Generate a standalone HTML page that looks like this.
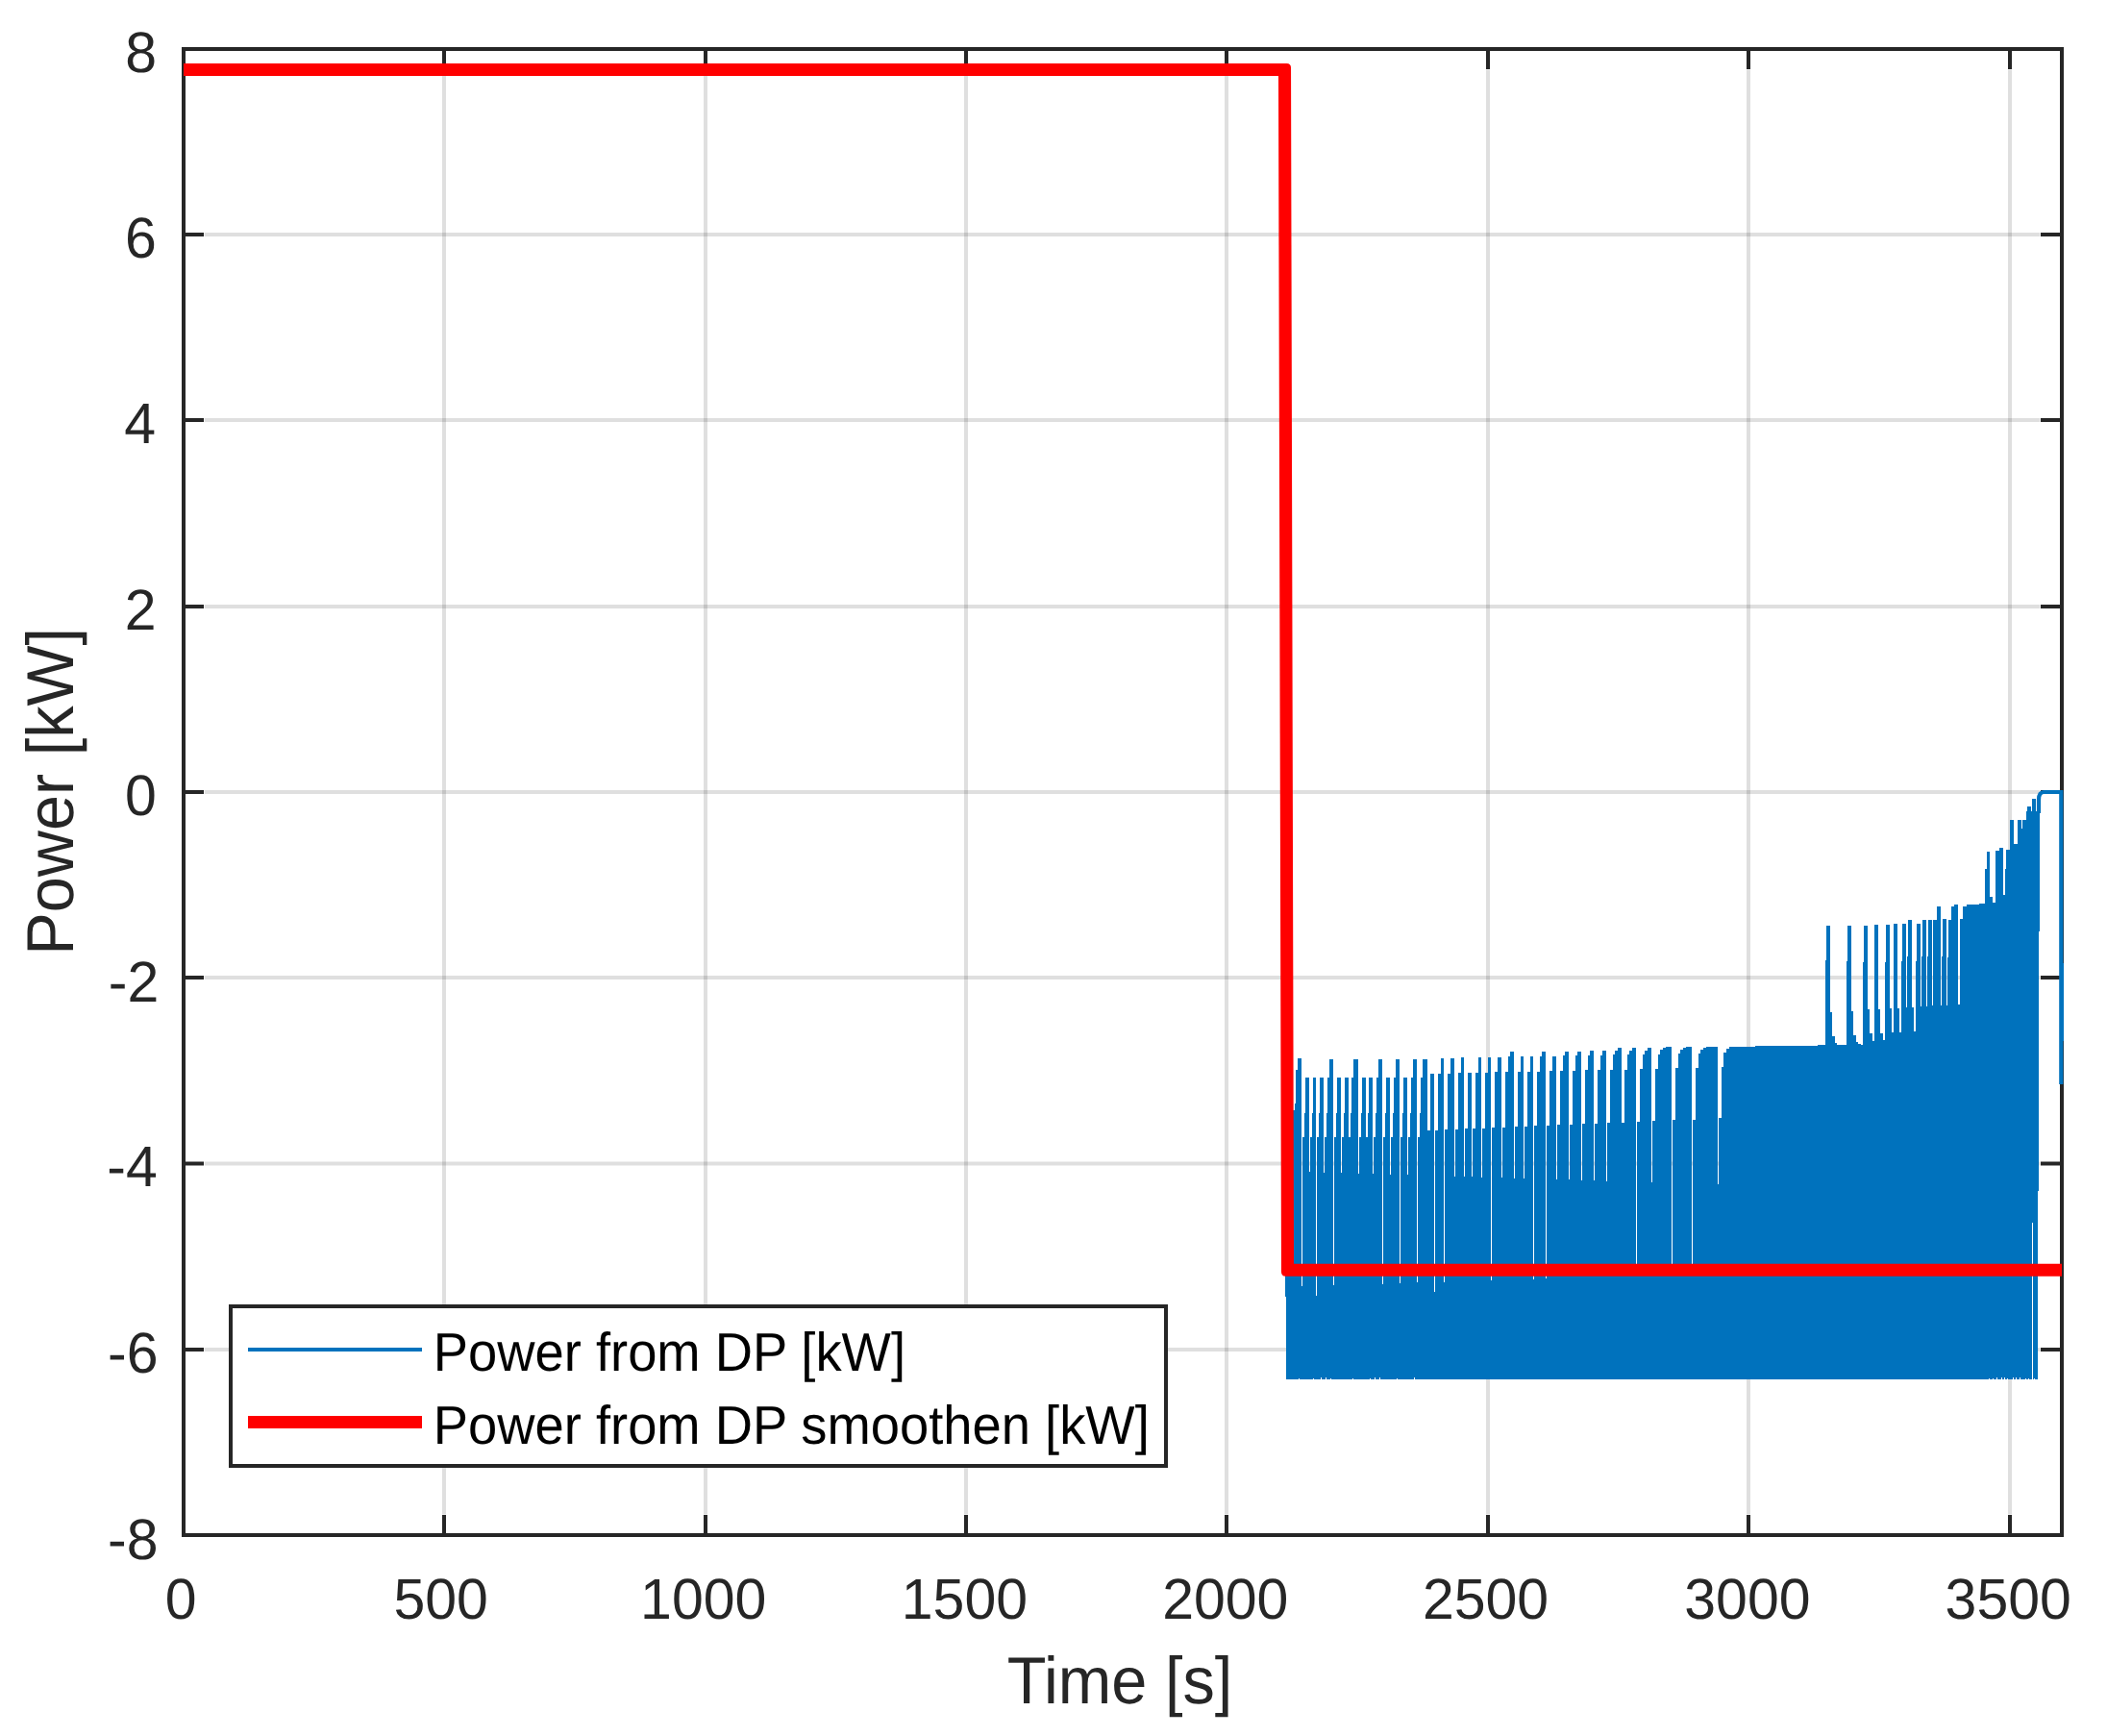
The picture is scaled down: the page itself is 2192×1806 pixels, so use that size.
<!DOCTYPE html>
<html lang="en"><head><meta charset="utf-8"><title>Power from DP</title>
<style>
html,body{margin:0;padding:0;background:#fff;}
body{width:2192px;height:1806px;overflow:hidden;font-family:"Liberation Sans",Arial,Helvetica,sans-serif;}
svg{display:block;}
</style></head>
<body>
<svg width="2192" height="1806" viewBox="0 0 2192 1806">
<rect width="2192" height="1806" fill="#fff"/>
<g stroke="#262626" stroke-opacity="0.15" stroke-width="4" fill="none">
<path d="M462,72.6 V1575.4 M734,72.6 V1575.4 M1005,72.6 V1575.4 M1276,72.6 V1575.4 M1548,72.6 V1575.4 M1819,72.6 V1575.4 M2091,72.6 V1575.4"/>
<path d="M212.6,1404 H2122.4 M212.6,1210.5 H2122.4 M212.6,1017 H2122.4 M212.6,824 H2122.4 M212.6,631 H2122.4 M212.6,437 H2122.4 M212.6,244 H2122.4"/>
</g>
<g stroke="#262626" stroke-width="4" fill="none" stroke-linecap="butt">
<rect x="191" y="51" width="1954" height="1546"/>
<path d="M462,1597 v-21 M462,51 v21 M734,1597 v-21 M734,51 v21 M1005,1597 v-21 M1005,51 v21 M1276,1597 v-21 M1276,51 v21 M1548,1597 v-21 M1548,51 v21 M1819,1597 v-21 M1819,51 v21 M2091,1597 v-21 M2091,51 v21 M191,1404 h21 M2145,1404 h-22 M191,1210.5 h21 M2145,1210.5 h-22 M191,1017 h21 M2145,1017 h-22 M191,824 h21 M2145,824 h-22 M191,631 h21 M2145,631 h-22 M191,437 h21 M2145,437 h-22 M191,244 h21 M2145,244 h-22"/>
</g>
<path d="M1337.5,1435V1155H1346.9V1148H1348.4V1113H1350.2V1101.3H1354V1338H1355V1183H1357.2V1158H1358.2V1120.5H1362V1219.1H1363V1183H1365.2V1158H1366.2V1120.5H1369V1348H1370V1183H1372.2V1158H1373.2V1120.5H1377V1219.5H1378V1183H1380.2V1158H1381.2V1120.5H1383.3V1102H1387V1337H1388V1183H1390.2V1158H1391.2V1120.5H1395V1220.1H1396V1183H1398.2V1158H1399.2V1120.5H1402.9V1183H1405.1V1158H1406.1V1120.5H1408.2V1102H1413V1220.6H1414V1183H1416.2V1158H1417.2V1120.5H1420.8V1183H1423V1158H1424V1120.5H1428V1221.1H1429V1183H1431.2V1158H1432.2V1120.5H1434.3V1102H1438V1335.5H1439V1183H1441.2V1158H1442.2V1120.5H1446V1221.6H1447V1183H1449.2V1158H1450.2V1120.5H1452.3V1102H1456V1334.9H1457V1183H1459.2V1158H1460.2V1120.5H1464V1222.2H1465V1183H1467.2V1158H1468.2V1120.5H1470.3V1102H1474V1334.4H1475V1183H1477.2V1158H1478.2V1120.5H1480.3V1102H1485V1175.8H1487.7V1116.9H1492V1344H1493V1175.5H1495.7V1116.7H1498.6V1100.8H1502V1333.6H1503V1175.1H1505.7V1116.5H1508.6V1100.6H1513V1223.7H1514V1174.6H1516.7V1116.3H1519.6V1100.4H1523V1224H1524V1174.2H1526.7V1116H1531V1224.2H1532V1173.9H1534.7V1115.9H1537.6V1100H1541V1224.5H1542V1173.5H1544.7V1115.6H1547.6V1099.8H1551V1332.1H1552V1173.1H1554.7V1115.4H1557.6V1099.7H1562V1225.1H1563V1172.6H1565.7V1115.2H1568.6V1099.4H1571.2V1094.4H1575V1225.5H1576V1172.1H1578.7V1114.9H1581.6V1099.2H1585V1225.9H1586V1171.7H1588.7V1114.7H1591.6V1099H1595V1330.8H1596V1171.3H1598.7V1114.5H1601.6V1098.8H1604.2V1094H1608V1330.4H1609V1170.8H1611.7V1114.2H1614.6V1098.6H1619V1226.9H1620V1170.3H1622.7V1113.9H1625.6V1098.4H1628.2V1093.7H1632V1227.3H1633V1169.8H1635.7V1113.7H1638.6V1098.1H1641.2V1093.5H1645V1227.7H1646V1169.3H1648.7V1113.4H1651.6V1097.9H1654.2V1093.3H1658V1228.1H1659V1168.7H1661.7V1113.1H1664.6V1097.6H1667.2V1093.2H1671V1228.5H1672V1168.2H1674.7V1112.8H1677.6V1097.4H1680.2V1093H1683.3V1090.2H1687V1167.6H1689.7V1112.5H1692.6V1097.1H1695.2V1092.8H1698.3V1090.2H1702V1324H1703V1166.9H1705.7V1112.1H1708.6V1096.8H1711.2V1092.6H1714.3V1090.2H1718V1229.9H1719V1166.3H1721.7V1111.8H1724.6V1096.5H1727.2V1092.4H1730.3V1090.2H1732.9V1089.3H1739V1324H1740V1165.4H1742.7V1111.3H1745.6V1096.1H1748.2V1092.1H1751.3V1090.2H1753.9V1089.3H1760V1324H1761V1164.6H1763.7V1110.9H1766.6V1095.7H1769.2V1091.8H1772.3V1090.2H1774.9V1089.3H1787V1232H1788V1163H1791.1V1110H1793.2V1095H1796V1091H1799.1V1089.2H1826.3V1088.2H1891V1087.1H1899.1V999H1900.3V963.1H1903.8V1052.8H1906.3V1077.8H1909V1085.3H1911.3V1086.8H1914V1087H1921V1000H1922.1V963H1925.8V1051.5H1928.3V1076.5H1931V1084H1933.3V1085.5H1936V1086.5H1937.9V1001H1939.1V963H1942.8V1050.4H1945.3V1075.4H1948V1082.9H1950V962.3H1953.9V1049.8H1956.4V1074.8H1959.1V1082.3H1961V1001H1962.2V962.3H1965.9V1049H1968.4V1074H1970V961.1H1973.9V1048.6H1976.4V1073.6H1978V1000H1979V961.1H1982.7V1048H1984.2V995H1985.1V957.4H1988.9V1047.7H1991.4V1072.7H1993.1V1000H1994.1V961.1H1997.8V1047.1H1999V995H2000V957.4H2003.7V1046.8H2004.9V995H2005.9V957.4H2009.5V1046.4H2010.8V957.4H2015.1V943H2018.8V1045.9H2020V995H2021V956.2H2024.9V1045.5H2026.2V996H2027.2V957.4H2030.2V943H2033V941.4H2036.9V1044.8H2039.3V956H2042.1V943.2H2045.8V941.1H2052V940.6H2059V940H2065.2V904H2066.5V885.5H2070V932.6H2072.9V939H2075.6V885.2H2079.7V881.5H2084V931H2086.1V904H2087.4V884.2H2091V852.9H2095V878.2H2099V852.9H2103V862H2104.1V852.6H2108.1V844H2109.2V838.6H2113V844H2114.2V831.1H2117.9V844H2119.2V838H2122L2119.8,1435Z" fill="#0072BD" shape-rendering="crispEdges"/>
<path d="M1351,1435v-1.5h1v1.5z M1366,1435v-1.5h1v1.5z M1374,1435v-2h1v2z M1379,1435v-2h1v2z M1384,1435v-1.5h1v1.5z M1407,1435v-1.5h1v1.5z M1425,1435v-1.5h1v1.5z M1430,1435v-2h1v2z M1435,1435v-2h1v2z M1453,1435v-1.5h1v1.5z M1471,1435v-2h1v2z M2069,1435v-1.5h1v1.5z M2073,1435v-1.5h1v1.5z M2077,1435v-2h1v2z M2082,1435v-2h1v2z M2085,1435v-2h1v2z M2088,1435v-1.5h1v1.5z M2094,1435v-2h1v2z M2097,1435v-2h1v2z M2101,1435v-2h1v2z M2107,1435v-1.5h1v1.5z M2110,1435v-1.5h1v1.5z M2116,1435v-1.5h1v1.5z" fill="#fff" shape-rendering="crispEdges"/>
<rect x="1337" y="1326" width="1" height="23" fill="#0072BD" shape-rendering="crispEdges"/>
<rect x="2114" y="1272" width="1" height="163" fill="#fff" shape-rendering="crispEdges"/>
<path d="M2121,846 V832 Q2121,824 2126.5,824 H2144.3 V1128" fill="none" stroke="#0072BD" stroke-width="4.2" stroke-linecap="butt" stroke-linejoin="miter"/>
<rect x="2144" y="1002" width="3" height="81" fill="#0072BD"/>
<path d="M191,66 H1338.6 Q1343,66 1343.05,70.5 L1346.05,1314.8 H2145 V1327.8 H1337.5 Q1333,1327.8 1332.95,1322.8 L1330,79 H191 Z" fill="#FF0000"/>
<g text-rendering="geometricPrecision" font-family="'Liberation Sans', Arial, Helvetica, sans-serif">
<text transform="translate(188.1,1683.7) scale(1,1.013)" font-size="59.0" text-anchor="middle" fill="#262626">0</text>
<text transform="translate(458.7,1683.7) scale(1,1.013)" font-size="59.0" text-anchor="middle" fill="#262626">500</text>
<text transform="translate(731.7,1683.7) scale(1,1.013)" font-size="59.0" text-anchor="middle" fill="#262626">1000</text>
<text transform="translate(1003.4,1683.7) scale(1,1.013)" font-size="59.0" text-anchor="middle" fill="#262626">1500</text>
<text transform="translate(1274.8,1683.7) scale(1,1.013)" font-size="59.0" text-anchor="middle" fill="#262626">2000</text>
<text transform="translate(1545.5,1683.7) scale(1,1.013)" font-size="59.0" text-anchor="middle" fill="#262626">2500</text>
<text transform="translate(1817.9,1683.7) scale(1,1.013)" font-size="59.0" text-anchor="middle" fill="#262626">3000</text>
<text transform="translate(2089.2,1683.7) scale(1,1.013)" font-size="59.0" text-anchor="middle" fill="#262626">3500</text>
<text transform="translate(164.5,1622) scale(1,1.013)" font-size="59.0" text-anchor="end" fill="#262626">-8</text>
<text transform="translate(164.5,1428) scale(1,1.013)" font-size="59.0" text-anchor="end" fill="#262626">-6</text>
<text transform="translate(163.8,1234.3) scale(1,1.013)" font-size="59.0" text-anchor="end" fill="#262626">-4</text>
<text transform="translate(165.3,1042.2) scale(1,1.013)" font-size="59.0" text-anchor="end" fill="#262626">-2</text>
<text transform="translate(162.9,847.6) scale(1,1.013)" font-size="59.0" text-anchor="end" fill="#262626">0</text>
<text transform="translate(162.7,654.5) scale(1,1.013)" font-size="59.0" text-anchor="end" fill="#262626">2</text>
<text transform="translate(162,461.3) scale(1,1.013)" font-size="59.0" text-anchor="end" fill="#262626">4</text>
<text transform="translate(162.9,267.9) scale(1,1.013)" font-size="59.0" text-anchor="end" fill="#262626">6</text>
<text transform="translate(163.1,74.8) scale(1,1.013)" font-size="59.0" text-anchor="end" fill="#262626">8</text>
<text transform="translate(1165,1771.8) scale(1,1.035)" font-size="66.67" text-anchor="middle" fill="#262626">Time [s]</text>
<text transform="translate(75.5,823.4) rotate(-90) scale(1,1.035)" font-size="66.67" text-anchor="middle" fill="#262626">Power [kW]</text>
</g>
<rect x="240" y="1359" width="973" height="166" fill="#fff" stroke="#262626" stroke-width="4"/>
<path d="M258,1404 H439" stroke="#0072BD" stroke-width="4" fill="none"/>
<path d="M258,1479.5 H439" stroke="#FF0000" stroke-width="13" fill="none"/>
<g text-rendering="geometricPrecision" font-family="'Liberation Sans', Arial, Helvetica, sans-serif">
<text transform="translate(450.8,1426) scale(1,1.04)" font-size="54.35" text-anchor="start" fill="#000">Power from DP [kW]</text>
<text transform="translate(450.8,1502) scale(1,1.04)" font-size="54.35" text-anchor="start" fill="#000">Power from DP smoothen [kW]</text>
</g>
</svg>
</body></html>
